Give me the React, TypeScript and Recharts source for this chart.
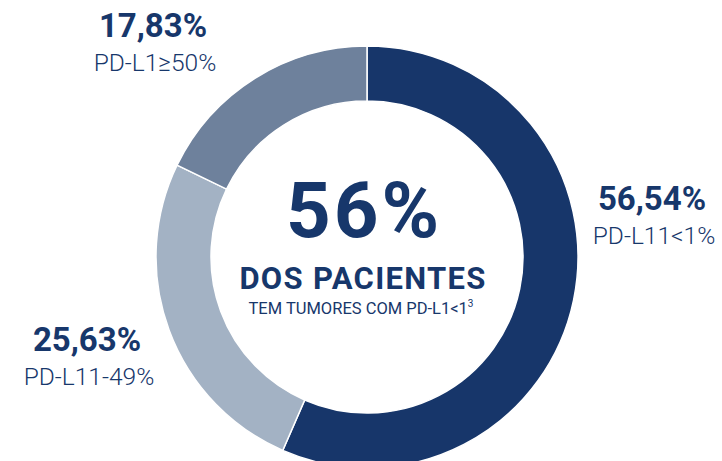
import { PieChart, Pie, Cell } from "recharts";

const groups = ["PD-L11<1%", "PD-L11-49%", "PD-L1≥50%"];
const shares = [56.54, 25.63, 17.83];
const valueLabels = ["56,54%", "25,63%", "17,83%"];
const colors = ["#17366a", "#a3b2c4", "#6e819c"];

const headline = "56%";
const headlineSub = "DOS PACIENTES";
const headlineNote = "TEM TUMORES COM PD-L1<1";
const headlineRef = "3";

const data = groups.map((name, i) => ({ name, value: shares[i], label: valueLabels[i] }));

// label placement, offsets from the pie centre
const labelOffsets = [
  { dx: 285, dy: -47 },
  { dx: -280, dy: 94 },
  { dx: -214, dy: -220 },
];

const TEXT = "#17376b";
const FONT = "Roboto, 'Noto Sans', sans-serif";

function CenterText({ cx, cy }: { cx: number; cy: number }) {
  return (
    <g fontFamily={FONT} fill={TEXT} textAnchor="middle">
      <text x={cx - 3} y={cy - 20} fontSize={78} fontWeight={700} fill={TEXT} textAnchor="middle" letterSpacing={3}>
        {headline}
      </text>
      <text x={cx - 4} y={cy + 32} fontSize={31} fontWeight={700} fill={TEXT} textAnchor="middle" letterSpacing={1.3}>
        {headlineSub}
      </text>
      <text x={cx - 6} y={cy + 57} fontSize={16.5} fontWeight={400} fill={TEXT} textAnchor="middle">
        {headlineNote}
        <tspan fontSize={10} dy={-7}>
          {headlineRef}
        </tspan>
      </text>
    </g>
  );
}

function SliceLabel(props: any) {
  const { cx, cy, index } = props;
  const off = labelOffsets[index];
  const d = data[index];
  const x = cx + off.dx;
  const y = cy + off.dy;
  return (
    <g>
      {index === 0 && <CenterText cx={cx} cy={cy} />}
      <text x={x} y={y} textAnchor="middle" fill={TEXT} fontFamily={FONT} fontWeight={700} fontSize={33}>
        {d.label}
      </text>
      <text x={x + 2} y={y + 34} textAnchor="middle" fill={TEXT} fontFamily={FONT} fontWeight={300} fontSize={24.5}>
        {d.name}
      </text>
    </g>
  );
}

export default function App() {
  return (
    <div style={{ position: "fixed", left: 0, top: 0, width: 722, height: 461, background: "#fff" }}>
      <PieChart width={722} height={461} margin={{ top: 0, right: 0, bottom: 0, left: 0 }}>
        <Pie
          data={data}
          dataKey="value"
          nameKey="name"
          cx={367}
          cy={257}
          innerRadius={156}
          outerRadius={211}
          startAngle={90}
          endAngle={-270}
          stroke="#ffffff"
          strokeWidth={1.5}
          label={SliceLabel}
          labelLine={false}
          isAnimationActive={false}
        >
          {data.map((d, i) => (
            <Cell key={d.name} fill={colors[i]} />
          ))}
        </Pie>
      </PieChart>
    </div>
  );
}
